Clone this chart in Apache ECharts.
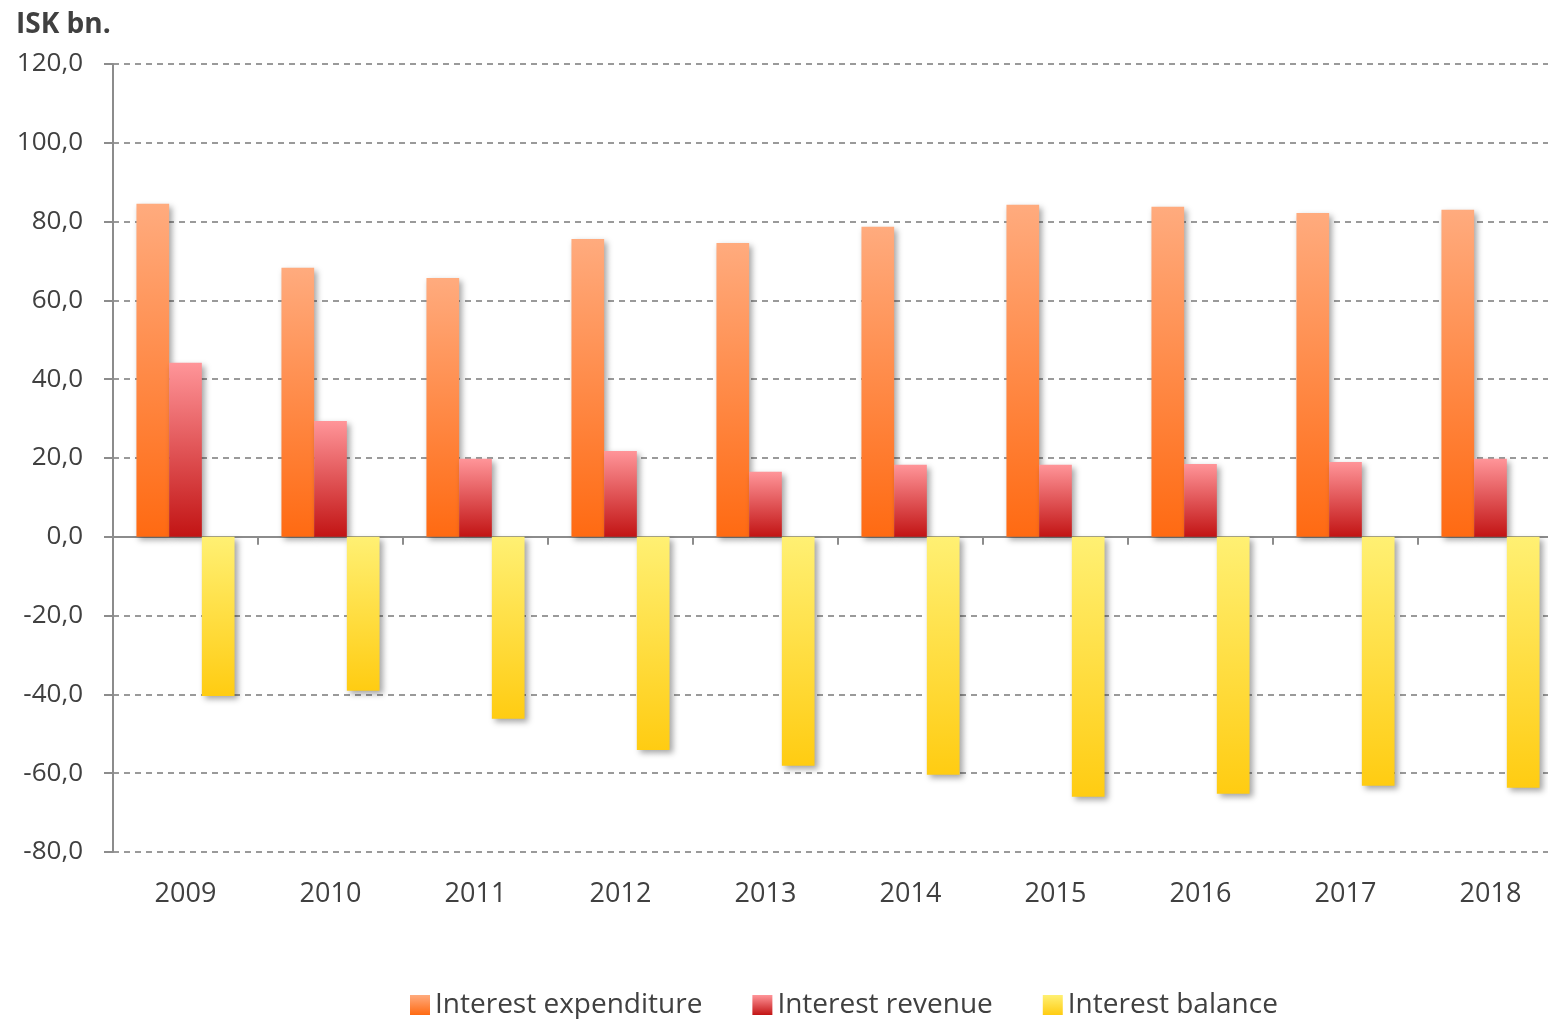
<!DOCTYPE html>
<html>
<head>
<meta charset="utf-8">
<title>Interest expenditure, revenue and balance</title>
<script src="https://cdn.jsdelivr.net/npm/echarts@6/dist/echarts.min.js"></script>
<style>
  html, body { margin: 0; padding: 0; background: #ffffff; }
  #chart { width: 1548px; height: 1019px; }
</style>
</head>
<body>
<div id="chart"></div>
<script>
// Annual figures, ISK bn.
const years = ['2009', '2010', '2011', '2012', '2013', '2014', '2015', '2016', '2017', '2018'];
const interestExpenditure = [84.5, 68.3, 65.7, 75.6, 74.6, 78.7, 84.3, 83.8, 82.2, 83.0];
const interestRevenue = [44.2, 29.4, 19.8, 21.8, 16.5, 18.3, 18.3, 18.5, 19.0, 19.8];
const interestBalance = [-40.4, -39.1, -46.2, -54.1, -58.1, -60.4, -66.0, -65.2, -63.2, -63.7];
const seriesNames = ['Interest expenditure', 'Interest revenue', 'Interest balance'];

const FONT = '"Open Sans", Lato, sans-serif';
const TEXT = '#404040';

function grad(top, bottom) {
  return new echarts.graphic.LinearGradient(0, 0, 0, 1, [
    { offset: 0, color: top },
    { offset: 1, color: bottom }
  ]);
}

const shadow = {
  shadowColor: 'rgba(0,0,0,0.35)',
  shadowBlur: 6,
  shadowOffsetX: 3,
  shadowOffsetY: 3
};

function barSeries(name, data, top, bottom) {
  return {
    name: name,
    type: 'bar',
    xAxisIndex: 0,
    data: data,
    barWidth: 32.7,
    barGap: '0%',
    itemStyle: Object.assign({ color: grad(top, bottom) }, shadow),
    emphasis: { disabled: true }
  };
}

const chart = echarts.init(document.getElementById('chart'), null, { renderer: 'canvas' });

chart.setOption({
  animation: false,
  backgroundColor: '#ffffff',
  title: {
    text: 'ISK bn.',
    left: 11,
    top: 6,
    textStyle: { fontFamily: FONT, fontSize: 28, fontWeight: 'bold', color: TEXT }
  },
  legend: {
    left: 405,
    top: 986,
    itemWidth: 20,
    itemHeight: 20,
    itemGap: 50,
    icon: 'rect',
    data: seriesNames,
    textStyle: { fontFamily: FONT, fontSize: 28, color: TEXT }
  },
  grid: { left: 113, top: 64, width: 1450, height: 788, outerBoundsMode: 'none' },
  xAxis: [
    {
      type: 'category',
      data: years,
      position: 'bottom',
      axisLine: { show: false, onZero: false },
      axisTick: { show: false },
      axisLabel: { margin: 29, fontFamily: FONT, fontSize: 27, color: TEXT },
      splitLine: { show: false }
    },
    {
      type: 'category',
      data: years,
      position: 'top',
      axisLine: { show: true, onZero: true, lineStyle: { color: '#8c8c8c', width: 2 } },
      axisTick: { show: true, inside: true, length: 8, lineStyle: { color: '#8c8c8c', width: 2 } },
      axisLabel: { show: false },
      splitLine: { show: false }
    }
  ],
  yAxis: {
    type: 'value',
    min: -80,
    max: 120,
    interval: 20,
    axisLine: { show: true, lineStyle: { color: '#8c8c8c', width: 2 } },
    axisTick: { show: true, length: 9, lineStyle: { color: '#8c8c8c', width: 2 } },
    axisLabel: {
      margin: 30,
      fontFamily: FONT,
      fontSize: 26,
      color: TEXT,
      formatter: function (v) { return v.toFixed(1).replace('.', ','); }
    },
    splitLine: { show: true, lineStyle: { color: '#9a9a9a', width: 2, type: [6, 5] } }
  },
  series: [
    barSeries(seriesNames[0], interestExpenditure, '#ffab7e', '#ff6a12'),
    barSeries(seriesNames[1], interestRevenue, '#ff9599', '#c21414'),
    barSeries(seriesNames[2], interestBalance, '#fff073', '#ffcc12')
  ]
});
</script>
</body>
</html>
